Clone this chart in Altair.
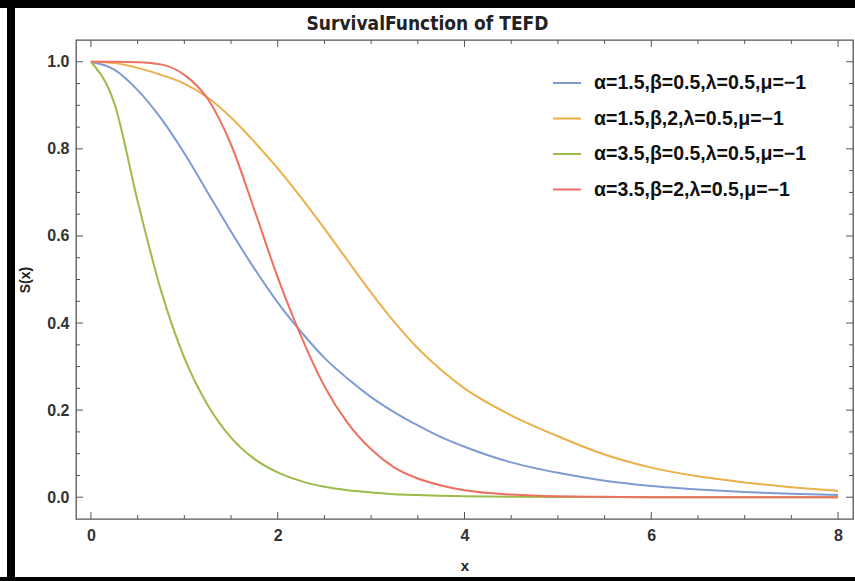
import altair as alt
import pandas as pd

# ---- data ----
x_vals = [0, 0.25, 0.5, 0.75, 1.0, 1.25, 1.5, 1.75, 2.0, 2.25, 2.5, 2.75, 3.0,
          3.25, 3.5, 3.75, 4.0, 4.5, 5.0, 5.5, 6.0, 6.5, 7.0, 7.5, 8.0]

s_blue = [1.0, 0.982, 0.935, 0.87, 0.79, 0.70, 0.61, 0.525, 0.447, 0.38, 0.32, 0.272, 0.23,
          0.195, 0.165, 0.138, 0.116, 0.08, 0.056, 0.038, 0.026, 0.018, 0.012, 0.008, 0.005]
s_orange = [1.0, 0.997, 0.986, 0.97, 0.95, 0.918, 0.872, 0.816, 0.755, 0.688, 0.617, 0.543, 0.47,
            0.402, 0.342, 0.292, 0.25, 0.188, 0.14, 0.098, 0.068, 0.048, 0.034, 0.023, 0.015]
s_green = [1.0, 0.905, 0.68, 0.475, 0.32, 0.212, 0.137, 0.088, 0.057, 0.037, 0.024, 0.016, 0.011,
           0.007, 0.005, 0.0035, 0.0025, 0.0012, 0.0006, 0.0003, 0.0001, 0.0, 0.0, 0.0, 0.0]
s_red = [1.0, 1.0, 0.999, 0.994, 0.97, 0.915, 0.81, 0.66, 0.505, 0.37, 0.255, 0.17, 0.11,
         0.068, 0.043, 0.027, 0.016, 0.006, 0.002, 0.001, 0.0, 0.0, 0.0, 0.0, 0.0]

labels = ["α=1.5,β=0.5,λ=0.5,μ=−1",
          "α=1.5,β,2,λ=0.5,μ=−1",
          "α=3.5,β=0.5,λ=0.5,μ=−1",
          "α=3.5,β=2,λ=0.5,μ=−1"]
colors = ["#7f9bd0", "#ebb04a", "#9cbc4a", "#ee7060"]

x_major = [0, 2, 4, 6, 8]
x_minor = [0.5, 1, 1.5, 2.5, 3, 3.5, 4.5, 5, 5.5, 6.5, 7, 7.5]
y_major = [0.0, 0.2, 0.4, 0.6, 0.8, 1.0]
y_minor = [0.05, 0.1, 0.15, 0.25, 0.3, 0.35, 0.45, 0.5, 0.55, 0.65, 0.7, 0.75, 0.85, 0.9, 0.95]

# ---- build table ----
rows = []
for lab, series in zip(labels, [s_blue, s_orange, s_green, s_red]):
    for xv, sv in zip(x_vals, series):
        rows.append({"x": xv, "S": sv, "series": lab})
df = pd.DataFrame(rows)

W, H = 777, 479
xscale = alt.Scale(domain=[-0.16, 8.16], nice=False, zero=False)
yscale = alt.Scale(domain=[-0.05, 1.05], nice=False, zero=False)
FONT = "Liberation Sans"
tick_color = "#555555"

lines = alt.Chart(df).mark_line(strokeWidth=2, interpolate="monotone").encode(
    x=alt.X("x:Q", scale=xscale, title="x",
            axis=alt.Axis(values=x_major, format="d", ticks=False, domain=False, grid=False,
                          labelFont=FONT, labelFontSize=16, labelFontWeight="bold",
                          labelColor="#333333", labelPadding=8,
                          titleFont=FONT, titleFontSize=15, titleFontWeight="bold",
                          titleColor="#222222", titleY=46, titleBaseline="middle")),
    y=alt.Y("S:Q", scale=yscale, title="S(x)",
            axis=alt.Axis(values=y_major, format=".1f", ticks=False, domain=False, grid=False,
                          labelFont=FONT, labelFontSize=16, labelFontWeight="bold",
                          labelColor="#333333", labelPadding=7,
                          titleFont=FONT, titleFontSize=14, titleFontWeight="bold",
                          titleColor="#222222", titleX=-51, titleY=H / 2,
                          titleBaseline="middle")),
    color=alt.Color("series:N", sort=labels,
                    scale=alt.Scale(domain=labels, range=colors),
                    legend=alt.Legend(orient="none", legendX=476, legendY=28, title=None,
                                      symbolType="stroke", symbolSize=784,
                                      symbolStrokeWidth=2, labelFont=FONT,
                                      labelFontSize=19.5, labelFontWeight="bold",
                                      labelColor="#111111", labelOffset=12,
                                      rowPadding=10.5, padding=0, labelLimit=400)),
    order=alt.Order("x:Q"),
)

def xticks(vals, length, top):
    d = pd.DataFrame({"x": vals})
    if top:
        yv, y2v = alt.value(0), alt.value(length)
    else:
        yv, y2v = alt.value(H), alt.value(H - length)
    return alt.Chart(d).mark_rule(color=tick_color, strokeWidth=1).encode(
        x=alt.X("x:Q", scale=xscale), y=yv, y2=y2v)

def yticks(vals, length, right):
    d = pd.DataFrame({"S": vals})
    if right:
        xv, x2v = alt.value(W), alt.value(W - length)
    else:
        xv, x2v = alt.value(0), alt.value(length)
    return alt.Chart(d).mark_rule(color=tick_color, strokeWidth=1).encode(
        y=alt.Y("S:Q", scale=yscale), x=xv, x2=x2v)

one = pd.DataFrame({"a": [0]})
border_left = alt.Chart(one).mark_rect(color="black").encode(
    x=alt.value(-69), x2=alt.value(-61), y=alt.value(-40), y2=alt.value(H + 62))
border_top = alt.Chart(one).mark_rect(color="black").encode(
    x=alt.value(-76), x2=alt.value(W + 2), y=alt.value(-40), y2=alt.value(-32))
border_bottom = alt.Chart(one).mark_rect(color="black").encode(
    x=alt.value(-76), x2=alt.value(W + 2), y=alt.value(H + 58), y2=alt.value(H + 62))

chart = alt.layer(
    xticks(x_major, 7, False), xticks(x_major, 7, True),
    xticks(x_minor, 4, False), xticks(x_minor, 4, True),
    yticks(y_major, 7, False), yticks(y_major, 7, True),
    yticks(y_minor, 4, False), yticks(y_minor, 4, True),
    lines,
    border_left, border_top, border_bottom,
).properties(
    width=W, height=H,
    title=alt.Title("SurvivalFunction of TEFD",
                    font="DejaVu Sans Condensed, Liberation Sans Narrow, sans-serif",
                    fontSize=19, fontWeight="bold", color="#222222", anchor="middle",
                    frame="group", baseline="alphabetic", dx=-37, dy=59, offset=10),
    autosize=alt.AutoSizeParams(type="none"),
    padding={"left": 76, "top": 40, "right": 2, "bottom": 62},
    background="white",
).configure_view(stroke="#555555", strokeWidth=1.3)

chart.save("out.html", embed_options={"renderer": "svg", "actions": False})
